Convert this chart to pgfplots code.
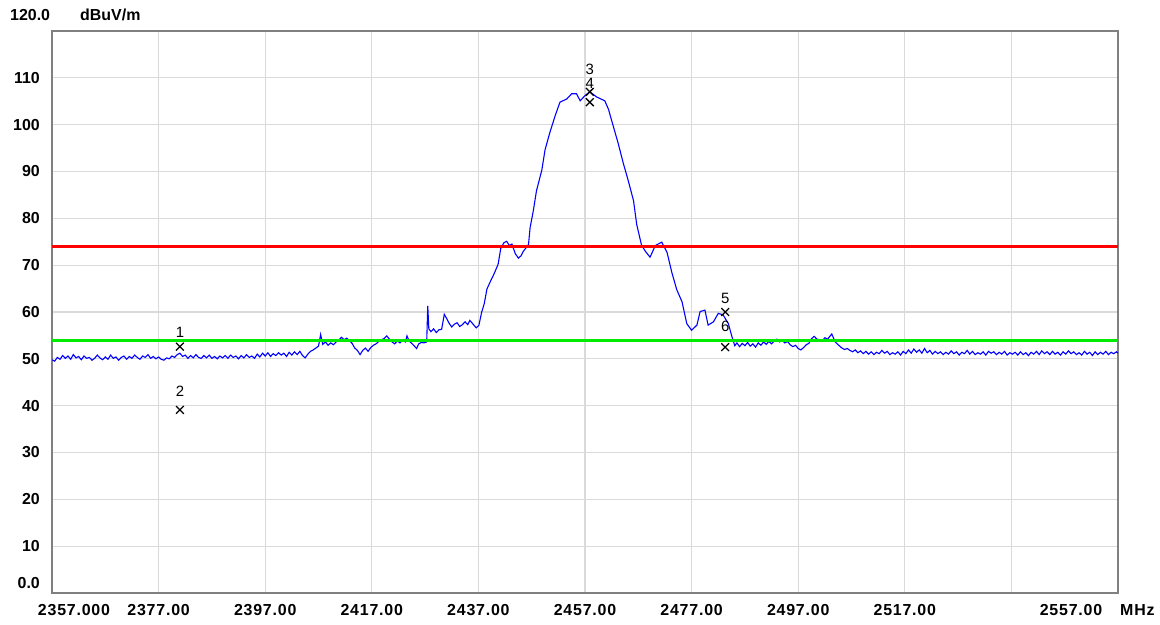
\documentclass[border=0pt]{standalone}
\usepackage{fontspec}
\setmainfont{Liberation Sans}
\usepackage{pgfplots}
\usepackage{pgfplotstable}
\pgfplotsset{compat=1.18}
\definecolor{tracecol}{RGB}{0,0,255}
\definecolor{limred}{RGB}{255,0,0}
\definecolor{limgreen}{RGB}{0,235,0}
\definecolor{gridcol}{RGB}{218,218,218}
\definecolor{framecol}{RGB}{128,128,128}
\newcommand\tickfont{\fontsize{16}{16}\selectfont\bfseries}
\newcommand\xtickfont{\fontsize{16}{16}\selectfont\bfseries\addfontfeatures{LetterSpace=5}}
\newcommand\markfont{\fontsize{15}{15}\selectfont}

\pgfplotstableread{
f v
2357.0 49.8
2357.5 49.5
2358.0 50.3
2358.5 49.9
2359.0 50.7
2359.5 50.1
2360.0 50.6
2360.5 49.9
2361.0 50.9
2361.5 50.2
2362.0 50.5
2362.5 49.8
2363.0 50.6
2363.5 50.1
2364.0 50.3
2364.5 49.7
2365.0 50.1
2365.5 50.8
2366.0 50.2
2366.5 49.8
2367.0 50.4
2367.5 49.9
2368.0 50.8
2368.5 50.1
2369.0 50.4
2369.5 49.7
2370.0 50.3
2370.5 50.6
2371.0 49.9
2371.5 50.5
2372.0 50.1
2372.5 50.8
2373.0 50.3
2373.5 49.9
2374.0 50.6
2374.5 50.3
2375.0 50.9
2375.5 50.1
2376.0 50.5
2376.5 50.0
2377.0 50.4
2377.5 49.9
2378.0 49.7
2378.5 50.2
2379.0 50.0
2379.5 50.6
2380.0 50.3
2380.5 50.9
2381.0 51.2
2381.5 50.5
2382.0 50.8
2382.5 50.1
2383.0 50.7
2383.5 50.2
2384.0 50.9
2384.5 50.3
2385.0 50.1
2385.5 50.7
2386.0 50.2
2386.5 50.8
2387.0 50.1
2387.5 50.5
2388.0 50.0
2388.5 50.6
2389.0 50.2
2389.5 50.7
2390.0 50.1
2390.5 50.8
2391.0 50.3
2391.5 50.6
2392.0 50.0
2392.5 50.7
2393.0 50.2
2393.5 50.9
2394.0 50.3
2394.5 50.6
2395.0 50.1
2395.5 51.0
2396.0 50.4
2396.5 51.2
2397.0 50.6
2397.5 51.3
2398.0 50.5
2398.5 51.1
2399.0 50.7
2399.5 51.3
2400.0 50.8
2400.5 51.2
2401.0 50.5
2401.5 51.4
2402.0 50.8
2402.5 51.5
2403.0 50.9
2403.5 51.6
2404.0 50.7
2404.5 50.2
2405.0 51.0
2405.5 51.6
2406.0 51.9
2406.5 52.3
2407.0 52.7
2407.4 55.2
2407.8 53.1
2408.3 53.6
2408.8 52.9
2409.3 53.4
2409.8 53.0
2410.3 53.6
2410.8 54.0
2411.3 54.6
2411.8 54.1
2412.3 54.4
2412.8 53.9
2413.3 53.3
2413.8 52.3
2414.3 51.8
2414.8 50.9
2415.3 51.8
2415.8 52.3
2416.3 51.6
2416.8 52.4
2417.3 52.9
2417.8 53.2
2418.3 53.7
2418.8 54.1
2419.3 54.3
2419.8 54.9
2420.3 54.2
2420.8 53.6
2421.3 53.2
2421.8 53.8
2422.3 53.4
2422.8 54.0
2423.3 53.6
2423.6 54.9
2424.0 53.8
2424.5 53.3
2425.0 52.7
2425.4 52.2
2425.8 53.2
2426.3 53.5
2426.8 53.4
2427.3 53.6
2427.5 61.3
2427.7 56.4
2428.1 55.8
2428.6 56.4
2429.1 55.6
2429.6 56.2
2430.1 56.3
2430.6 59.5
2431.0 58.7
2431.5 57.6
2432.0 56.8
2432.5 57.4
2433.0 57.7
2433.5 56.9
2434.0 57.3
2434.5 57.9
2435.0 57.3
2435.4 58.2
2436.0 57.4
2436.6 56.6
2437.1 57.2
2437.6 59.9
2438.1 61.8
2438.6 64.9
2439.2 66.4
2440.0 68.3
2440.7 70.2
2441.2 73.6
2441.8 74.8
2442.3 75.1
2442.8 74.2
2443.3 74.5
2443.9 72.5
2444.5 71.5
2445.0 72.0
2445.4 72.9
2446.0 73.8
2446.4 74.4
2446.7 78.0
2447.3 81.6
2447.9 85.9
2448.9 90.3
2449.5 94.6
2450.4 98.3
2451.4 101.9
2452.3 104.8
2453.6 105.5
2454.5 106.6
2455.4 106.6
2456.1 105.1
2457.0 106.2
2457.9 107.0
2459.2 105.9
2460.7 105.1
2461.4 103.3
2462.3 99.7
2463.2 96.1
2464.2 91.7
2465.1 88.1
2466.1 83.8
2466.7 78.7
2467.6 74.3
2468.3 73.0
2469.2 71.7
2470.2 74.2
2471.4 74.9
2472.4 72.7
2473.3 68.4
2474.2 64.8
2475.2 62.2
2476.1 57.5
2477.0 56.1
2478.0 57.2
2478.6 60.1
2479.5 60.4
2480.1 57.2
2481.1 57.9
2482.0 59.7
2482.9 59.4
2483.9 57.5
2484.5 55.0
2485.1 52.8
2485.5 53.4
2486.0 52.6
2486.5 53.3
2487.0 52.8
2487.5 53.5
2488.0 52.7
2488.5 53.2
2489.0 52.5
2489.5 53.4
2490.0 52.9
2490.5 53.6
2491.0 53.1
2491.5 53.7
2492.0 53.2
2492.5 53.8
2493.0 54.2
2493.5 53.6
2494.0 53.9
2494.5 53.4
2495.0 53.7
2495.5 53.0
2496.0 52.6
2496.5 52.9
2497.0 52.2
2497.5 51.9
2498.0 52.4
2498.5 53.0
2499.0 53.3
2499.5 54.3
2500.0 54.8
2500.5 54.2
2501.0 54.1
2501.5 53.8
2502.0 54.5
2502.5 54.2
2503.0 54.9
2503.3 55.3
2503.9 53.7
2504.5 53.0
2505.2 52.3
2505.7 52.0
2506.2 52.2
2506.7 51.8
2507.2 51.5
2507.7 51.9
2508.2 51.3
2508.7 51.7
2509.2 51.1
2509.7 51.6
2510.2 51.0
2510.7 51.5
2511.2 50.9
2511.7 51.4
2512.2 51.1
2512.7 51.8
2513.2 51.2
2513.7 51.6
2514.2 50.9
2514.7 51.3
2515.2 51.0
2515.7 51.5
2516.2 50.8
2516.7 51.6
2517.2 51.1
2517.7 51.9
2518.2 51.2
2518.7 52.1
2519.2 51.4
2519.7 51.9
2520.2 51.2
2520.7 52.2
2521.2 51.3
2521.7 51.8
2522.2 51.0
2522.7 51.6
2523.2 51.1
2523.7 51.5
2524.2 50.9
2524.7 51.4
2525.2 51.0
2525.7 51.7
2526.2 51.1
2526.7 51.5
2527.2 50.8
2527.7 51.4
2528.2 51.1
2528.7 51.8
2529.2 51.0
2529.7 51.6
2530.2 50.9
2530.7 51.3
2531.2 51.0
2531.7 51.5
2532.2 50.8
2532.7 51.6
2533.2 51.2
2533.7 51.5
2534.2 50.9
2534.7 51.4
2535.2 51.0
2535.7 51.6
2536.2 50.8
2536.7 51.3
2537.2 51.0
2537.7 51.4
2538.2 50.8
2538.7 51.5
2539.2 50.9
2539.7 51.3
2540.2 50.7
2540.7 51.4
2541.2 51.0
2541.7 51.6
2542.2 50.9
2542.7 51.7
2543.2 51.1
2543.7 51.5
2544.2 50.9
2544.7 51.6
2545.2 51.0
2545.7 51.4
2546.2 50.8
2546.7 51.5
2547.2 51.0
2547.7 51.7
2548.2 51.1
2548.7 51.5
2549.2 50.9
2549.7 51.3
2550.2 50.8
2550.7 51.6
2551.2 51.0
2551.7 51.4
2552.2 50.7
2552.7 51.5
2553.2 50.9
2553.7 51.4
2554.2 51.0
2554.7 51.6
2555.2 50.9
2555.7 51.4
2556.2 51.1
2556.7 51.5
2557.0 51.2
}\trace

\pgfplotstableread{
f v
2381.0 52.6
2381.0 39.1
2457.9 107.0
2457.9 104.8
2483.3 60.0
2483.3 52.5
}\markers

\begin{document}
\begin{tikzpicture}[x=1bp,y=1bp]
\path[use as bounding box] (0,0) rectangle (1160,625);
\begin{axis}[
  at={(52bp,32bp)}, anchor=south west,
  scale only axis, width=1066bp, height=562bp,
  xmin=2357, xmax=2557, ymin=0, ymax=120,
  xtick={2357,2377,...,2557}, ytick={10,20,...,110},
  xticklabels=\empty, yticklabels=\empty,
  grid=major,
  major grid style={draw=gridcol, line width=1.3bp},
  axis line style={draw=framecol, line width=1.6bp},
  major tick length=0pt,
  clip mode=individual,
]
\addplot[tracecol, line width=1.1bp] table[x=f, y=v] {\trace};
\addplot[limred, line width=3bp] coordinates {(2357,74) (2557,74)};
\addplot[limgreen, line width=3bp] coordinates {(2357,54) (2557,54)};
\addplot[only marks, mark=x, mark size=5.5bp, black, mark options={line width=1.3bp}] table[x=f, y=v] {\markers};
\node[font=\markfont] at (axis cs:2381,55.6) {1};
\node[font=\markfont] at (axis cs:2381,43.1) {2};
\node[font=\markfont] at (axis cs:2457.9,111.8) {3};
\node[font=\markfont] at (axis cs:2457.9,108.8) {4};
\node[font=\markfont] at (axis cs:2483.3,62.8) {5};
\node[font=\markfont] at (axis cs:2483.3,56.9) {6};
\end{axis}
% header
\node[anchor=west, font=\tickfont, inner sep=0] at (10,610) {120.0};
\node[anchor=west, font=\tickfont, inner sep=0] at (80,610) {dBuV/m};
% y tick labels
\node[anchor=east, font=\tickfont, inner sep=0] at (40,547.1) {110};
\node[anchor=east, font=\tickfont, inner sep=0] at (40,500.3) {100};
\node[anchor=east, font=\tickfont, inner sep=0] at (40,453.5) {90};
\node[anchor=east, font=\tickfont, inner sep=0] at (40,406.6) {80};
\node[anchor=east, font=\tickfont, inner sep=0] at (40,359.8) {70};
\node[anchor=east, font=\tickfont, inner sep=0] at (40,313.0) {60};
\node[anchor=east, font=\tickfont, inner sep=0] at (40,266.1) {50};
\node[anchor=east, font=\tickfont, inner sep=0] at (40,219.3) {40};
\node[anchor=east, font=\tickfont, inner sep=0] at (40,172.5) {30};
\node[anchor=east, font=\tickfont, inner sep=0] at (40,125.6) {20};
\node[anchor=east, font=\tickfont, inner sep=0] at (40,78.8) {10};
\node[anchor=east, font=\tickfont, inner sep=0] at (40,42) {0.0};
% x tick labels
\node[font=\xtickfont, inner sep=0] at (74,15) {2357.000};
\node[font=\xtickfont, inner sep=0] at (158.6,15) {2377.00};
\node[font=\xtickfont, inner sep=0] at (265.2,15) {2397.00};
\node[font=\xtickfont, inner sep=0] at (371.8,15) {2417.00};
\node[font=\xtickfont, inner sep=0] at (478.4,15) {2437.00};
\node[font=\xtickfont, inner sep=0] at (585,15) {2457.00};
\node[font=\xtickfont, inner sep=0] at (691.6,15) {2477.00};
\node[font=\xtickfont, inner sep=0] at (798.2,15) {2497.00};
\node[font=\xtickfont, inner sep=0] at (904.8,15) {2517.00};
\node[font=\xtickfont, inner sep=0] at (1071,15) {2557.00};
\node[anchor=west, font=\xtickfont, inner sep=0] at (1120,15) {MHz};
\end{tikzpicture}
\end{document}
